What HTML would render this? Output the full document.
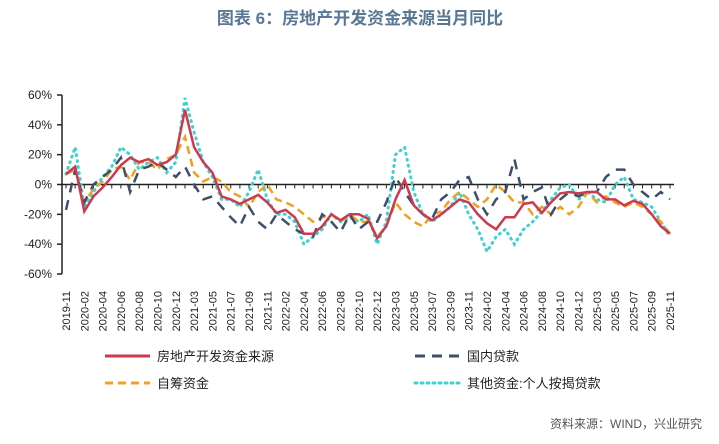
<!DOCTYPE html>
<html><head><meta charset="utf-8">
<style>
body{margin:0;background:#fff;width:719px;height:439px;overflow:hidden;font-family:"Liberation Sans","Noto Sans CJK SC",sans-serif;}
</style></head>
<body>
<svg width="719" height="439" font-family="Liberation Sans, Noto Sans CJK SC, sans-serif">
<text x="360" y="24" text-anchor="middle" font-size="17" font-weight="bold" fill="#5a7896">图表 6：房地产开发资金来源当月同比</text>
<g id="axes"></g>
<g id="series"></g>
<g font-size="13" fill="#222">
<line x1="105" y1="356" x2="150" y2="356" stroke="#cc3a4f" stroke-width="3"/>
<text x="157" y="361">房地产开发资金来源</text>
<line x1="415" y1="356" x2="460" y2="356" stroke="#3d4f6b" stroke-width="3" stroke-dasharray="10,7"/>
<text x="467" y="361">国内贷款</text>
<line x1="105" y1="383" x2="150" y2="383" stroke="#f0a020" stroke-width="3" stroke-dasharray="8,5"/>
<text x="157" y="388">自筹资金</text>
<line x1="415" y1="383" x2="460" y2="383" stroke="#40d0d0" stroke-width="3" stroke-dasharray="2,4" stroke-linecap="round"/>
<text x="467" y="388">其他资金:个人按揭贷款</text>
</g>
<text x="702" y="428" text-anchor="end" font-size="12" fill="#555">资料来源：WIND，兴业研究</text>
</svg>
<script>
const yTicks=[60,40,20,0,-20,-40,-60];
const years=[2019,2020,2021,2022,2023,2024,2025];
const totalFunds=[7,12,-18,-8,-2,5,13,18,15,17,13,15,20,50,25,15,8,-8,-10,-13,-10,-7,-12,-19,-17,-22,-33,-33,-28,-20,-24,-20,-20,-23,-36,-28,-10,3,-14,-20,-24,-20,-15,-10,-12,-20,-26,-30,-22,-22,-13,-12,-19,-12,-6,-5,-6,-5,-5,-10,-10,-14,-11,-13,-20,-28,-33];
const domesticLoans=[-17,10,-12,0,5,10,18,-5,10,12,15,10,5,12,0,-10,-8,-15,-22,-28,-15,-25,-30,-20,-25,-30,-33,-35,-20,-25,-32,-20,-30,-25,-25,-12,5,-5,-14,-20,-23,-10,-5,3,5,-10,-20,-10,-5,17,-10,-5,-2,-20,-10,-5,-8,-5,-5,5,10,10,0,-5,-10,-5,-10];
const selfRaised=[7,10,-12,-3,2,10,12,3,15,15,10,17,20,32,8,2,5,2,-5,-8,-15,-5,0,-10,-12,-15,-20,-25,-22,-20,-25,-20,-25,-25,-35,-28,-12,-20,-25,-28,-20,-18,-10,-5,-10,-15,-10,0,-5,-12,-12,-20,-15,-20,-15,-20,-15,-5,-12,-8,-12,-15,-12,-15,-20,-25,-33];
const otherFunds=[7,25,-15,-5,5,12,25,20,10,15,18,8,15,58,35,15,5,-10,-10,-15,-5,10,-10,-20,-20,-25,-40,-35,-30,-20,-25,-22,-25,-20,-40,-25,20,25,-5,-20,-25,-20,-15,-5,-20,-30,-45,-35,-30,-40,-30,-25,-18,-10,-2,0,-10,-5,-10,-12,0,5,-10,-12,-15,-25,-35];
const NS='http://www.w3.org/2000/svg';
// month categories (January merged into Feb, so skipped)
const months=[];
years.forEach(y=>{for(let m=1;m<=12;m++){if(m===1)continue;if(y===2019&&m<11)continue;if(y===2025&&m>11)continue;months.push(y+'-'+String(m).padStart(2,'0'));}});
const n=months.length;
const x0=66,x1=670,yTop=95,yBot=274;
const xs=i=>x0+i*(x1-x0)/(n-1);
const ys=v=>yTop+(60-v)/120*(yBot-yTop);
function mk(tag,attrs,parent){const e=document.createElementNS(NS,tag);for(const k in attrs)e.setAttribute(k,attrs[k]);parent.appendChild(e);return e;}
const ax=document.getElementById('axes');
let yl=mk('line',{x1:62,y1:yTop,x2:62,y2:yBot,stroke:'#222','stroke-width':1.5},ax);


yTicks.forEach(t=>{
 const tk=mk('line',{x1:57,y1:ys(t),x2:62,y2:ys(t),stroke:'#222','stroke-width':1.5},ax);
 
 
 const tx=mk('text',{x:52,y:ys(t)+4,'text-anchor':'end','font-size':12,fill:'#222'},ax);
 tx.textContent=t+'%';
 
 
});
let xl=mk('line',{x1:62,y1:ys(0),x2:674,y2:ys(0),stroke:'#222','stroke-width':1.5},ax);


for(let i=0;i<n;i++){
 const tk=mk('line',{x1:xs(i),y1:ys(0),x2:xs(i),y2:ys(0)+4,stroke:'#222','stroke-width':1},ax);
 
 
 if(i%2===0){
  const tx=mk('text',{x:0,y:0,'text-anchor':'end','font-size':11,fill:'#222',transform:`translate(${xs(i)+4},291) rotate(-90)`},ax);
  tx.textContent=months[i];
  
  
 }
}
const sg=document.getElementById('series');
function line(data,style,name){
 const d=data.map((v,i)=>(i?'L':'M')+xs(i).toFixed(1)+','+ys(v).toFixed(1)).join(' ');
 const p=mk('path',Object.assign({d:d,fill:'none'},style),sg);
 
 
}
line(otherFunds,{stroke:'#40d0d0','stroke-width':3,'stroke-dasharray':'1,5','stroke-linecap':'round'},'series-other-funds');
line(selfRaised,{stroke:'#f0a020','stroke-width':2.5,'stroke-dasharray':'8,5'},'series-self-raised');
line(domesticLoans,{stroke:'#3d4f6b','stroke-width':2.5,'stroke-dasharray':'10,8'},'series-domestic-loans');
line(totalFunds,{stroke:'#cc3a4f','stroke-width':2.5},'series-total-funds');
</script>
</body></html>
